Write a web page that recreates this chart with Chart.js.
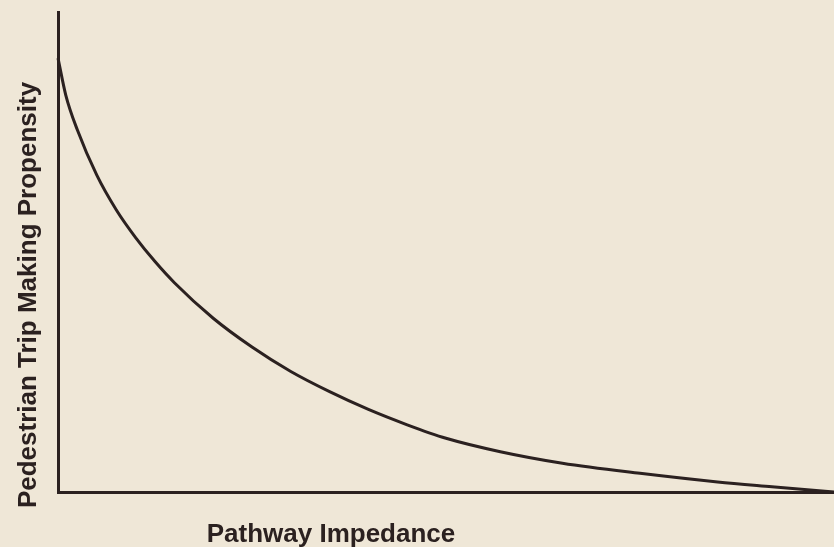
<!DOCTYPE html>
<html>
<head>
<meta charset="utf-8">
<script src="https://cdn.jsdelivr.net/npm/chart.js@4"></script>
<style>
  html, body { margin: 0; padding: 0; background: #efe7d7; }
  canvas { display: block; }
</style>
</head>
<body>
<canvas id="c" width="834" height="547"></canvas>
<script>
const impedance = [0, 1, 2.5, 5, 7.5, 10, 12.5, 15, 20, 25, 30, 35, 40, 45, 50, 57, 65, 75, 85, 92, 100];
const propensity = [90.4, 82.7, 75.4, 66.0, 58.8, 53.0, 48.0, 43.6, 36.2, 30.2, 25.1, 20.9, 17.2, 14.0, 11.2, 8.4, 6.0, 3.9, 2.1, 1.1, 0];
const xTitle = "Pathway Impedance";
const yTitle = "Pedestrian Trip Making Propensity";

const ink = '#2b2120';

const labelsPlugin = {
  id: 'labels',
  afterDraw(chart) {
    const ctx = chart.ctx;
    ctx.save();
    ctx.fillStyle = ink;
    ctx.font = 'bold 26px "Liberation Sans", Arial, sans-serif';
    ctx.textAlign = 'center';
    ctx.textBaseline = 'alphabetic';
    ctx.fillText(xTitle, 331, 542);
    ctx.translate(36, 295);
    ctx.rotate(-Math.PI / 2);
    ctx.fillText(yTitle, 0, 0);
    ctx.restore();
  }
};

new Chart(document.getElementById('c'), {
  type: 'line',
  data: {
    datasets: [{
      data: impedance.map((x, i) => ({ x: x, y: propensity[i] })),
      borderColor: ink,
      borderWidth: 3,
      pointRadius: 0,
      cubicInterpolationMode: 'monotone',
      fill: false,
      clip: false
    }]
  },
  options: {
    responsive: false,
    animation: false,
    layout: { padding: { left: 50, top: 12, right: 0, bottom: 47 } },
    plugins: { legend: { display: false }, tooltip: { enabled: false } },
    scales: {
      x: {
        type: 'linear', min: 0, max: 100,
        ticks: { display: false },
        grid: { display: false },
        border: { display: true, color: ink, width: 3 }
      },
      y: {
        type: 'linear', min: 0, max: 100,
        ticks: { display: false },
        grid: { display: false },
        border: { display: true, color: ink, width: 3 }
      }
    }
  },
  plugins: [labelsPlugin]
});
</script>
</body>
</html>
